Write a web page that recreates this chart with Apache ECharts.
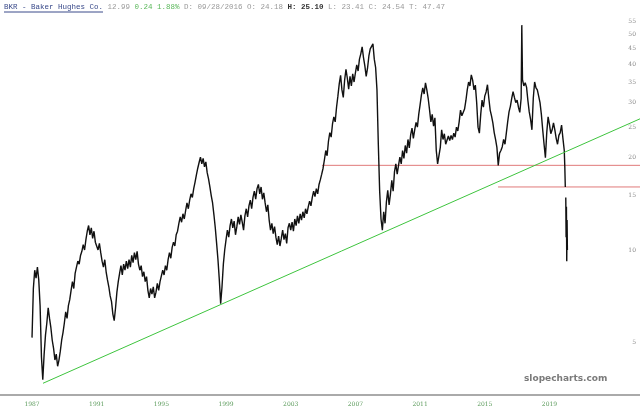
<!DOCTYPE html>
<html>
<head>
<meta charset="utf-8">
<script src="https://cdn.jsdelivr.net/npm/echarts@6/dist/echarts.min.js"></script>
<style>html,body{margin:0;padding:0;background:#fff}#c{width:640px;height:414px}</style>
</head>
<body>
<div id="c"></div>
<script>
// ---- data (one reading per month, band edges alternate) ----
const startYear = 1987;
const stepYears = 1 / 12;
const closes = [
  /*1987*/ 5.2, 7.5, 8.6, 8.1, 8.8, 8.0, 6.6, 4.5, 3.8, 4.6, 5.3, 5.8,
  /*1988*/ 6.5, 6.0, 5.6, 5.1, 4.8, 4.4, 4.6, 4.2, 4.4, 4.7, 5.1, 5.4,
  /*1989*/ 5.8, 6.3, 6.0, 6.6, 6.9, 7.4, 7.9, 7.5, 8.4, 8.8, 9.2, 9.0,
  /*1990*/ 9.6, 9.9, 10.4, 10.0, 10.8, 11.5, 12.0, 11.2, 11.8, 10.9, 11.5, 10.6,
  /*1991*/ 10.6, 10.0, 10.5, 9.8, 9.2, 8.8, 9.3, 8.5, 8.0, 7.6, 7.1, 6.8,
  /*1992*/ 6.2, 5.9, 6.5, 7.3, 7.9, 8.4, 8.9, 8.3, 9.0, 8.6, 9.2, 8.7,
  /*1993*/ 9.3, 8.8, 9.6, 9.1, 9.8, 9.3, 9.9, 9.0, 8.6, 8.9, 8.2, 8.5,
  /*1994*/ 7.9, 8.2, 7.4, 7.0, 7.5, 7.2, 7.6, 7.0, 7.3, 7.8, 7.4, 7.9,
  /*1995*/ 8.0, 8.6, 8.3, 8.9, 8.6, 9.3, 9.8, 9.4, 10.2, 10.6, 10.3, 11.2,
  /*1996*/ 11.5, 12.2, 12.8, 12.3, 13.1, 12.6, 13.4, 14.2, 13.6, 14.5, 15.2, 14.8,
  /*1997*/ 15.8, 16.6, 17.5, 18.4, 19.2, 20.0, 19.0, 19.8, 18.6, 19.3, 17.8, 17.0,
  /*1998*/ 16.0, 15.0, 14.2, 13.0, 11.8, 10.5, 9.3, 8.0, 6.7, 7.6, 9.0, 10.0,
  /*1999*/ 10.8, 11.6, 11.0, 12.0, 12.6, 11.8, 12.4, 11.2, 11.9, 12.8, 12.1, 13.0,
  /*2000*/ 12.3, 11.6, 12.9, 13.6, 12.8, 13.9, 14.5, 13.6, 14.8, 15.5, 14.6, 15.8,
  /*2001*/ 16.3, 15.2, 16.0, 14.6, 15.3, 14.2, 13.3, 14.0, 12.5, 11.6, 12.2, 11.3,
  /*2002*/ 11.9, 11.0, 10.4, 11.1, 10.3, 10.9, 11.6, 10.8, 11.3, 10.5, 11.8, 12.2,
  /*2003*/ 11.6, 12.3, 11.5, 12.6, 12.0, 12.9, 12.2, 13.1, 12.5, 13.3, 12.7, 13.6,
  /*2004*/ 13.1, 13.8, 14.4, 13.9, 14.8, 15.5, 14.9, 15.8, 15.2, 16.3, 16.9, 17.6,
  /*2005*/ 18.4, 19.6, 21.0, 20.2, 22.5, 24.0, 23.2, 25.6, 27.0, 26.0, 29.0, 31.5,
  /*2006*/ 34.5, 36.8, 33.0, 31.2, 35.5, 38.5, 36.0, 33.2, 36.5, 34.0, 37.2, 35.0,
  /*2007*/ 37.5, 39.8, 38.0, 41.5, 43.2, 45.5, 42.0, 39.5, 36.5, 38.8, 42.5, 44.8,
  /*2008*/ 45.0, 46.5, 41.5, 39.0, 33.0, 22.0, 15.5, 12.6, 11.6, 13.3, 12.2, 14.3,
  /*2009*/ 15.6, 14.0, 15.2, 16.8, 15.5, 17.9, 19.0, 17.6, 18.8, 20.0, 19.0, 21.0,
  /*2010*/ 19.8, 21.8, 20.6, 22.8, 21.4, 23.6, 24.8, 23.0, 24.5, 25.9, 25.0, 27.5,
  /*2011*/ 29.5, 31.8, 33.5, 32.0, 34.8, 33.0, 31.0, 28.5, 26.0, 27.5, 25.2, 26.8,
  /*2012*/ 21.0, 19.0, 18.8, 21.5, 24.5, 22.8, 23.8, 22.0, 21.8, 23.4, 22.6, 23.5,
  /*2013*/ 22.8, 23.9, 23.2, 25.0, 24.3, 26.0, 28.4, 27.2, 27.0, 28.6, 30.5, 33.0,
  /*2014*/ 35.0, 34.0, 36.9, 35.5, 33.0, 34.2, 30.0, 25.0, 23.9, 27.5, 30.6, 29.0,
  /*2015*/ 31.5, 32.5, 34.3, 31.0, 28.4, 27.2, 25.8, 24.0, 22.8, 21.5, 18.8, 20.6,
  /*2016*/ 21.0, 21.6, 22.8, 22.0, 23.9, 26.0, 28.0, 29.2, 31.0, 32.6, 31.2, 30.0,
  /*2017*/ 30.6, 29.0, 27.9, 31.0, 35.6, 34.0, 34.8, 33.7, 30.5, 28.0, 26.5, 24.5,
  /*2018*/ 31.0, 35.0, 33.5, 33.0, 31.5, 30.0, 27.5, 24.5, 22.0, 19.9, 24.0, 27.0,
  /*2019*/ 25.5, 23.8, 24.5, 25.8, 24.5, 23.0, 22.0, 23.5, 24.0, 25.4, 23.0, 21.0
];
// extra readings: the 2017 spike and the 2020 collapse (null = gap)
const extraYears  = [2017.29, 2019.95, 2019.98, 2019.99, 2020.01, 2020.03, 2020.05, 2020.07, 2020.09, 2020.11];
const extraCloses = [53.5,    18.6,    16.0,    null,    14.8,    11.0,    13.8,    9.2,     12.5,    10.0];

const supportLevels = [18.8, 16.0];          // red horizontal lines
const supportStartYears = [2004.93, 2015.82];
const trendYears  = [1987.68, 2024.6];       // green trend line
const trendPrices = [3.70, 26.6];

const xTicks = [1987, 1991, 1995, 1999, 2003, 2007, 2011, 2015, 2019];
const yTicks = [5, 10, 15, 20, 25, 30, 35, 40, 45, 50, 55];

const xMin = 1985.02, xMax = 2024.6;
const yMin = 3.39, yMax = 57.7;

// ---- build ----
const points = [];
closes.forEach((v, i) => points.push([startYear + i * stepYears, v]));
extraYears.forEach((y, i) => points.push([y, extraCloses[i] == null ? '-' : extraCloses[i]]));
points.sort((a, b) => a[0] - b[0]);

const chart = echarts.init(document.getElementById('c'), null, {renderer: 'canvas'});
const series = [
  {
    type: 'line', data: points, showSymbol: false, symbol: 'none',
    lineStyle: {color: '#111', width: 1.4}, connectNulls: false, z: 3
  },
  {
    type: 'line', data: trendYears.map((y, i) => [y, trendPrices[i]]), symbol: 'none',
    lineStyle: {color: '#3ec43e', width: 1}, z: 4
  }
];
supportLevels.forEach((lv, i) => {
  series.push({
    type: 'line', data: [[supportStartYears[i], lv], [xMax, lv]], symbol: 'none',
    lineStyle: {color: '#e07a7a', width: 1}, z: 2
  });
});

chart.setOption({
  animation: false,
  backgroundColor: '#fff',
  grid: {left: 0, right: 0, top: 15, bottom: 19, containLabel: false},
  xAxis: {
    type: 'value', min: xMin, max: xMax,
    axisLine: {show: true, lineStyle: {color: '#aaa', width: 2}},
    axisTick: {show: false},
    splitLine: {show: false},
    axisLabel: {
      customValues: xTicks, margin: 6, fontSize: 6, color: '#5a9a5a',
      fontFamily: 'DejaVu Serif', formatter: v => String(Math.round(v))
    }
  },
  yAxis: {
    type: 'log', position: 'right', min: yMin, max: yMax,
    axisLine: {show: false}, axisTick: {show: false}, splitLine: {show: false},
    axisLabel: {
      inside: true, customValues: yTicks, margin: 4, fontSize: 6, color: '#8a8a8a',
      fontFamily: 'DejaVu Serif', formatter: v => String(Math.round(v))
    }
  },
  series: series,
  graphic: [
    {
      type: 'text', left: 4, top: 3,
      style: {
        text: '{lk|BKR - Baker Hughes Co.} {g|12.99} {gr|0.24 1.88%} {g|D: 09/28/2016 O: 24.18} {b|H: 25.10} {g|L: 23.41 C: 24.54 T: 47.47}',
        rich: {
          lk: {fill: '#3a4a8a', fontFamily: 'Liberation Mono', fontSize: 7.5},
          g: {fill: '#9a9a9a', fontFamily: 'Liberation Mono', fontSize: 7.5},
          gr: {fill: '#5cb85c', fontFamily: 'Liberation Mono', fontSize: 7.5},
          b: {fill: '#333', fontFamily: 'Liberation Mono', fontSize: 7.5, fontWeight: 'bold'}
        },
        fontFamily: 'Liberation Mono', fontSize: 7.5
      }
    },
    {
      type: 'line', shape: {x1: 4, y1: 12, x2: 103, y2: 12},
      style: {stroke: '#3a4a8a', lineWidth: 1}
    },
    {
      type: 'text', left: 524, top: 374,
      style: {text: 'slopecharts.com', fill: '#7a7a7a', fontFamily: 'DejaVu Sans', fontWeight: 'bold', fontSize: 9}
    }
  ]
});
</script>
</body>
</html>
